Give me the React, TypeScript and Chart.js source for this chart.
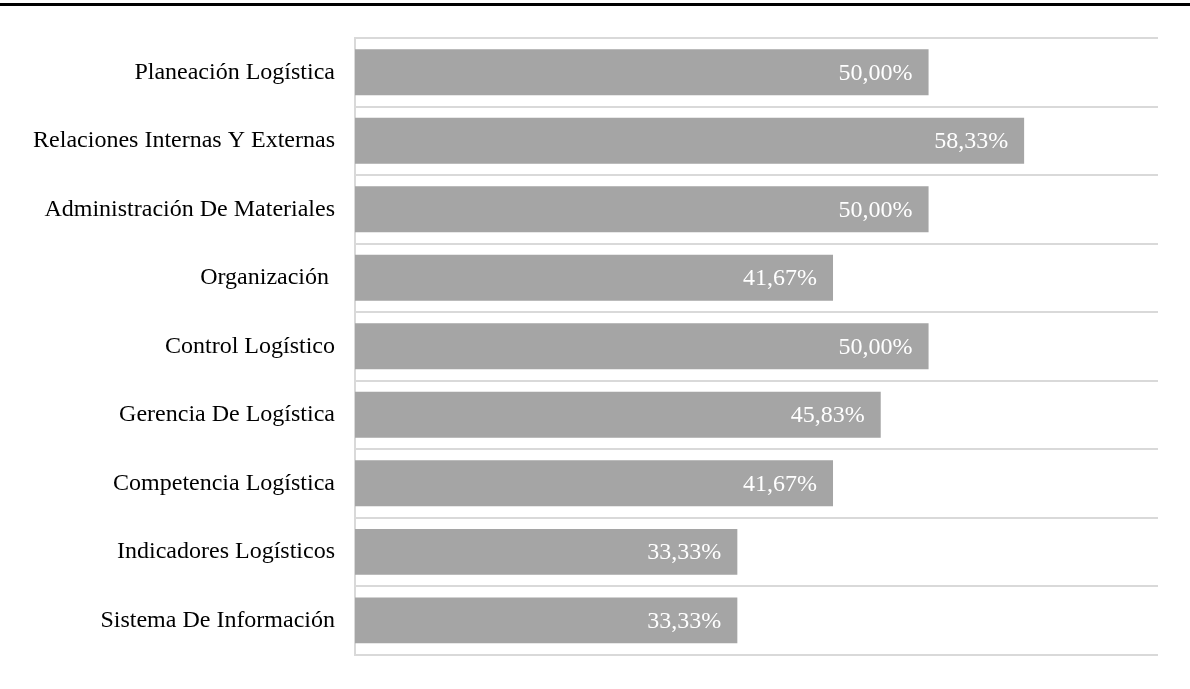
import React, { useEffect, useRef } from "react";
import { Chart, registerables } from "chart.js";

Chart.register(...registerables);

const categories = [
  "Planeación Logística",
  "Relaciones Internas Y Externas",
  "Administración De Materiales",
  "Organización ",
  "Control Logístico",
  "Gerencia De Logística",
  "Competencia Logística",
  "Indicadores Logísticos",
  "Sistema De Información",
];

const values = [50.0, 58.33, 50.0, 41.67, 50.0, 45.83, 41.67, 33.33, 33.33];

const xMin = 0;
const xMax = 70;

const FONT = "'Liberation Serif', 'Times New Roman', serif";

const valueLabelPlugin = {
  id: "valueLabels",
  afterDatasetsDraw(chart: any) {
    const ctx = chart.ctx;
    const meta = chart.getDatasetMeta(0);
    ctx.save();
    ctx.font = `24px ${FONT}`;
    ctx.fillStyle = "#ffffff";
    ctx.textAlign = "right";
    ctx.textBaseline = "middle";
    meta.data.forEach((bar: any, i: number) => {
      const v = values[i];
      const txt = v.toFixed(2).replace(".", ",") + "%";
      ctx.fillText(txt, bar.x - 16, bar.y + 1);
    });
    ctx.restore();
  },
};

const topRulePlugin = {
  id: "topRule",
  afterDraw(chart: any) {
    const ctx = chart.ctx;
    ctx.save();
    ctx.fillStyle = "#000000";
    ctx.fillRect(0, 3, chart.width, 3);
    ctx.restore();
  },
};

export default function App() {
  const ref = useRef<HTMLCanvasElement | null>(null);

  useEffect(() => {
    if (!ref.current) return;
    const chart = new Chart(ref.current, {
      type: "bar",
      data: {
        labels: categories,
        datasets: [
          {
            data: values,
            backgroundColor: "#a5a5a5",
            borderWidth: 0,
            barPercentage: 0.67,
            categoryPercentage: 1,
          },
        ],
      },
      options: {
        indexAxis: "y",
        responsive: false,
        animation: false,
        layout: { padding: { top: 38, bottom: 30, right: 32, left: 0 } },
        plugins: {
          legend: { display: false },
          tooltip: { enabled: false },
          title: { display: false },
        },
        scales: {
          x: {
            display: false,
            min: xMin,
            max: xMax,
          },
          y: {
            afterFit: (scale: any) => {
              scale.width = 355;
            },
            grid: {
              display: true,
              offset: true,
              color: "#d9d9d9",
              lineWidth: 2,
              drawTicks: false,
            },
            border: { display: true, color: "#d9d9d9", width: 2 },
            ticks: {
              padding: 20,
              color: "#000000",
              font: { family: FONT, size: 24 },
            },
          },
        },
      },
      plugins: [valueLabelPlugin, topRulePlugin],
    });
    return () => chart.destroy();
  }, []);

  return (
    <div style={{ position: "fixed", left: 0, top: 0, width: 1190, height: 689, background: "#ffffff" }}>
      <canvas ref={ref} width={1190} height={689} style={{ display: "block" }} />
    </div>
  );
}
